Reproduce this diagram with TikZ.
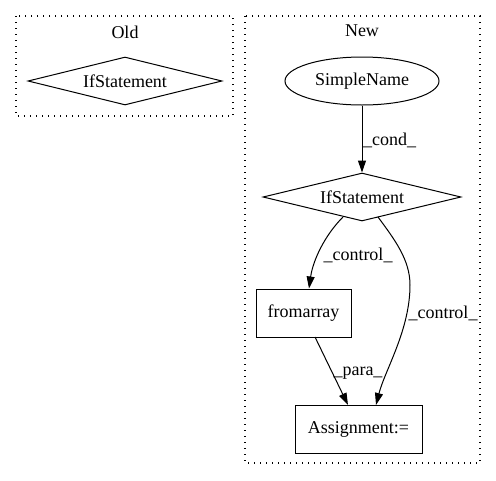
\documentclass[tikz,border=0pt]{standalone}
\usepackage{fontspec}
\setmainfont{Liberation Serif}
\usetikzlibrary{shapes.geometric,arrows.meta}
\begin{document}
\begin{tikzpicture}[x=1pt,y=-1pt,
  every node/.style={font=\fontsize{18}{20}\selectfont, inner sep=0pt},
  cluster/.style={draw, line width=1.2pt, dash pattern=on 1.3pt off 4.7pt},
  dia/.style={draw, line width=1pt, diamond, aspect=4, minimum width=#1, minimum height=48},
  ell/.style={draw, line width=1pt, ellipse, minimum width=154, minimum height=48},
  box/.style={draw, line width=1pt, rectangle, minimum height=48},
  edge/.style={-{Triangle[length=12pt,width=8pt]}, line width=1pt}]
\useasboundingbox (0,0) rectangle (496,480);
\draw[cluster] (16,16) rectangle (233,116);
\node (oldt) at (125,32) {Old};
\node[dia=194] (oif) at (125,81) {};
\node (oift) at (125,81) {IfStatement};
\draw[cluster] (245,16) rectangle (480,463);
\node (newt) at (362,31) {New};
\node[ell] (sn) at (362,81) {SimpleName};
\node[dia=198] (nif) at (362,197) {};
\node (nift) at (362,197) {IfStatement};
\node[box, minimum width=95] (fa) at (303.5,313) {fromarray};
\node[box, minimum width=127] (as) at (358.5,429) {Assignment:=};
\draw[edge] (sn) -- (nif.north);
\node[anchor=west] (cl) at (363,140) {\_cond\_};
\draw[edge] (343,217) .. controls (325,235) and (313,260) .. (fa.north -| 309,0);
\node (c1) at (358,255) {\_control\_};
\draw[edge] (378,217) .. controls (395,240) and (410,260) .. (410,285) .. controls (410,330) and (385,370) .. (376,405);
\node (c2) at (443,313) {\_control\_};
\draw[edge] (315,337) -- (348,405);
\node (p) at (358,373) {\_para\_};
\end{tikzpicture}
\end{document}
